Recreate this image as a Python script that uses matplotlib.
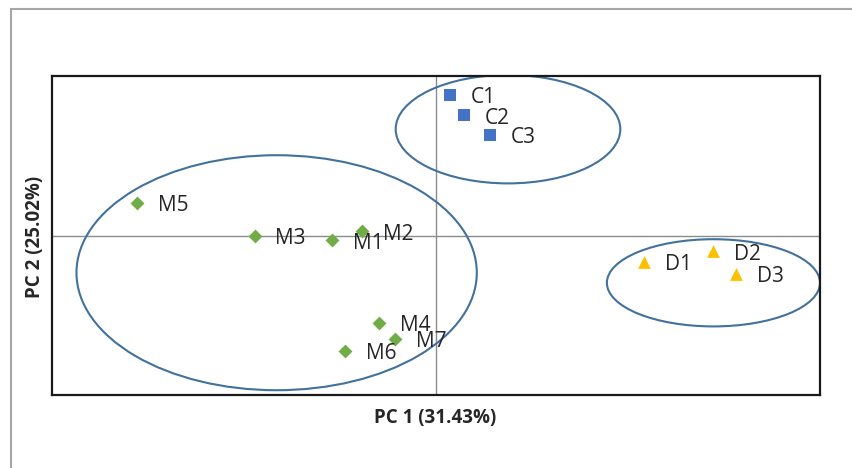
import matplotlib
matplotlib.use("Agg")
import matplotlib.pyplot as plt
from matplotlib.patches import Ellipse, Rectangle

plt.rcParams['font.family'] = ['Open Sans', 'DejaVu Sans']

# Data (PCA scores)
c_labels = ["C1", "C2", "C3"]
c_x = [0.15, 0.29, 0.56]
c_y = [2.64, 2.26, 1.89]

m_labels = ["M5", "M3", "M1", "M2", "M4", "M7", "M6"]
m_x = [-3.11, -1.89, -1.08, -0.77, -0.59, -0.43, -0.95]
m_y = [0.62, 0.00, -0.09, 0.08, -1.64, -1.94, -2.17]

d_labels = ["D1", "D2", "D3"]
d_x = [2.17, 2.89, 3.13]
d_y = [-0.49, -0.30, -0.72]

# Group ellipses: center x, center y, width, height
ell_cx = [0.75, -1.66, 2.89]
ell_cy = [2.00, -0.70, -0.89]
ell_w = [2.34, 4.17, 2.22]
ell_h = [2.04, 4.42, 1.64]

x_title = "PC 1 (31.43%)"
y_title = "PC 2 (25.02%)"

W, H = 852, 468
fig = plt.figure(figsize=(W / 100, H / 100), dpi=100)

# outer chart frame (extends beyond the image to right and bottom)
fig.patches.append(Rectangle((11 / W, -0.1), 1.2, (H - 9) / H + 0.1,
                             transform=fig.transFigure, fill=False,
                             edgecolor="#a6a6a6", linewidth=1.5, clip_on=False))

left, right, top, bottom = 52, 820, 76, 395
ax = fig.add_axes([left / W, 1 - bottom / H, (right - left) / W, (bottom - top) / H])
ax.set_xlim(-4, 4)
ax.set_ylim(-3, 3)
ax.set_xticks([])
ax.set_yticks([])
for s in ax.spines.values():
    s.set_color("#1a1a1a")
    s.set_linewidth(1.6)

ax.axhline(0, color="#8c8c8c", linewidth=1.0, zorder=1)
ax.axvline(0, color="#8c8c8c", linewidth=1.0, zorder=1)

for cx, cy, w, h in zip(ell_cx, ell_cy, ell_w, ell_h):
    ax.add_patch(Ellipse((cx, cy), w, h, fill=False, edgecolor="#41719c",
                         linewidth=1.5, zorder=2))

ax.scatter(c_x, c_y, marker="s", s=75, color="#4472c4", zorder=3, linewidths=0)
ax.scatter(m_x, m_y, marker="D", s=50, color="#70ad47", zorder=3, linewidths=0)
ax.scatter(d_x, d_y, marker="^", s=85, color="#ffc000", zorder=3, linewidths=0)

txt_kw = dict(fontsize=15, color="#262626", va="center", ha="left", zorder=4)
for labs, xs, ys in ((c_labels, c_x, c_y), (m_labels, m_x, m_y), (d_labels, d_x, d_y)):
    for lab, x, y in zip(labs, xs, ys):
        ax.annotate(lab, (x, y), xytext=(15, -2), textcoords="offset points", **txt_kw)

fig.text(435 / W, 1 - 418 / H, x_title, ha="center", va="center",
         fontsize=13.5, fontweight="bold", color="#262626")
fig.text(35 / W, 1 - 237 / H, y_title, ha="center", va="center", rotation=90,
         fontsize=13.5, fontweight="bold", color="#262626")

fig.savefig("out.png", dpi=100)
